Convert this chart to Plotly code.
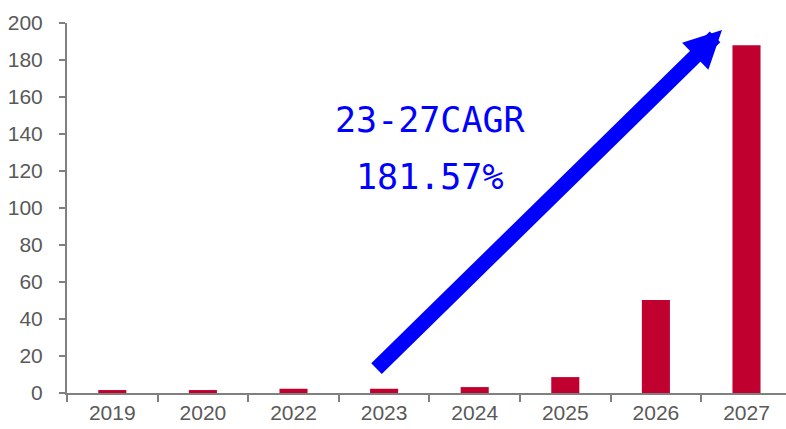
import plotly.graph_objects as go

years = ["2019", "2020", "2022", "2023", "2024", "2025", "2026", "2027"]
values = [1.6, 1.6, 2.3, 2.3, 3.2, 8.6, 50.3, 188.0]
cagr_lines = ["23-27CAGR", "181.57%"]

W, H = 786, 429
L, R, T, B = 67, 0, 23, 36
pw, ph = W - L - R, H - T - B

def px(x, y):
    return (x - L) / pw, (H - B - y) / ph

fig = go.Figure()
fig.add_trace(go.Bar(x=years, y=values, marker=dict(color="#C0002F", line=dict(width=0)), width=0.31))

tick_font = dict(family="Liberation Sans, Arial, sans-serif", size=21, color="#595959")
fig.update_layout(
    width=W, height=H,
    margin=dict(l=L, r=R, t=T, b=B),
    plot_bgcolor="white", paper_bgcolor="white",
    showlegend=False,
    xaxis=dict(type="category", range=[-0.5, 7.436], showline=True, linecolor="#808080", linewidth=2,
               ticks="outside", tickson="boundaries", ticklen=7, tickwidth=2, tickcolor="#808080",
               tickfont=tick_font, showgrid=False, fixedrange=True),
    yaxis=dict(range=[0, 200], dtick=20, showline=True, linecolor="#808080", linewidth=2,
               ticks="outside", ticklen=6, tickwidth=2, tickcolor="#808080",
               tickfont=tick_font, showgrid=False, zeroline=False, ticklabelstandoff=12),
)

hx, hy = px(722, 30)
fig.add_annotation(xref="paper", yref="paper", x=hx, y=hy, ax=-347, ay=340,
                   text="", showarrow=True, arrowhead=2, arrowsize=0.5, arrowwidth=15,
                   arrowcolor="#0000FF", standoff=0)

text_font = dict(family="DejaVu Sans Mono, monospace", size=35, color="#0000FF")
for i, t in enumerate(cagr_lines):
    tx, ty = px(430, 120 + 57 * i)
    fig.add_annotation(xref="paper", yref="paper", x=tx, y=ty, text=t, showarrow=False,
                       font=text_font, xanchor="center", yanchor="middle")

fig.write_html("out.html")
